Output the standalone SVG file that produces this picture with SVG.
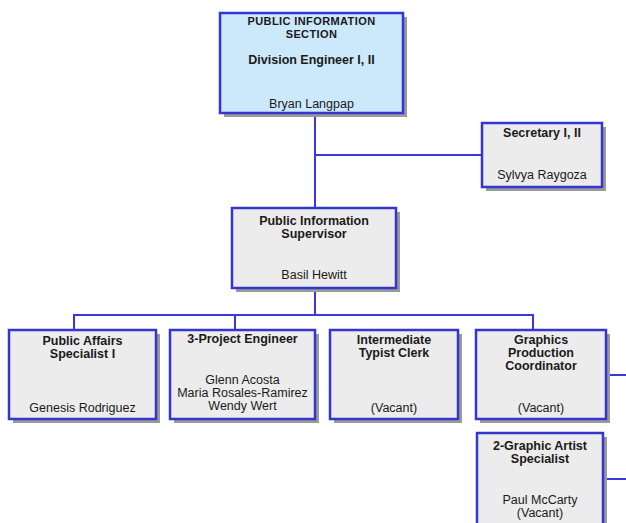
<svg xmlns="http://www.w3.org/2000/svg" width="626" height="523" viewBox="0 0 626 523">
<defs>
<style>
.shadow{fill:#9a9a9a}
.box{fill:#ececec;stroke:#3535d0;stroke-width:2.5}
.boxtop{fill:#cce9fc;stroke:#3535d0;stroke-width:2.5}
.conn{stroke:#3838e0;stroke-width:2;fill:none}
text{font-family:"Liberation Sans",Arial,sans-serif;fill:#1a1a1a;text-anchor:middle}
.t{font-weight:bold;font-size:12.5px}
.tc{font-weight:bold;font-size:11px;letter-spacing:0.4px}
.n{font-size:12.5px}
</style>
</defs>
<rect width="626" height="523" fill="#ffffff"/>
<g id="connectors">
<path class="conn" d="M315 114 V208"/>
<path class="conn" d="M315 155 H482"/>
<path class="conn" d="M315 289 V315"/>
<path class="conn" d="M74 330 V315 H533 V330"/>
<path class="conn" d="M235 315 V330"/>
<path class="conn" d="M606 375 H626"/>
<path class="conn" d="M603 479 H626"/>
</g>
<g id="node-section">
<rect class="shadow" x="224" y="17" width="183" height="100"/>
<rect class="boxtop" x="220" y="13" width="183" height="100"/>
<text class="tc" x="311.5" y="25">PUBLIC INFORMATION</text>
<text class="tc" x="311.5" y="38">SECTION</text>
<text class="t" x="311.5" y="64">Division Engineer I, II</text>
<text class="n" x="311.5" y="108">Bryan Langpap</text>
</g>
<g id="node-secretary">
<rect class="shadow" x="486" y="127" width="120" height="64"/>
<rect class="box" x="482" y="123" width="120" height="64"/>
<text class="t" x="542" y="137">Secretary I, II</text>
<text class="n" x="542" y="179">Sylvya Raygoza</text>
</g>
<g id="node-supervisor">
<rect class="shadow" x="236" y="212" width="164" height="80"/>
<rect class="box" x="232" y="208" width="164" height="80"/>
<text class="t" x="314" y="225">Public Information</text>
<text class="t" x="314" y="238">Supervisor</text>
<text class="n" x="314" y="279">Basil Hewitt</text>
</g>
<g id="node-affairs">
<rect class="shadow" x="13" y="334" width="147" height="89"/>
<rect class="box" x="9" y="330" width="147" height="89"/>
<text class="t" x="82.5" y="345">Public Affairs</text>
<text class="t" x="82.5" y="358">Specialist I</text>
<text class="n" x="82.5" y="412">Genesis Rodriguez</text>
</g>
<g id="node-project">
<rect class="shadow" x="174" y="334" width="145" height="89"/>
<rect class="box" x="170" y="330" width="145" height="89"/>
<text class="t" x="242.5" y="343">3-Project Engineer</text>
<text class="n" x="242.5" y="384">Glenn  Acosta</text>
<text class="n" x="242.5" y="397">Maria  Rosales-Ramirez</text>
<text class="n" x="242.5" y="410">Wendy Wert</text>
</g>
<g id="node-typist">
<rect class="shadow" x="334" y="334" width="128" height="89"/>
<rect class="box" x="330" y="330" width="128" height="89"/>
<text class="t" x="394" y="344">Intermediate</text>
<text class="t" x="394" y="357">Typist Clerk</text>
<text class="n" x="394" y="412">(Vacant)</text>
</g>
<g id="node-graphics">
<rect class="shadow" x="480" y="334" width="130" height="89"/>
<rect class="box" x="476" y="330" width="130" height="89"/>
<text class="t" x="541" y="344">Graphics</text>
<text class="t" x="541" y="357">Production</text>
<text class="t" x="541" y="370">Coordinator</text>
<text class="n" x="541" y="412">(Vacant)</text>
</g>
<g id="node-artist">
<rect class="shadow" x="481" y="437" width="126" height="100"/>
<rect class="box" x="477" y="433" width="126" height="100"/>
<text class="t" x="540" y="450">2-Graphic Artist</text>
<text class="t" x="540" y="463">Specialist</text>
<text class="n" x="540" y="504">Paul McCarty</text>
<text class="n" x="540" y="517">(Vacant)</text>
</g>
</svg>
